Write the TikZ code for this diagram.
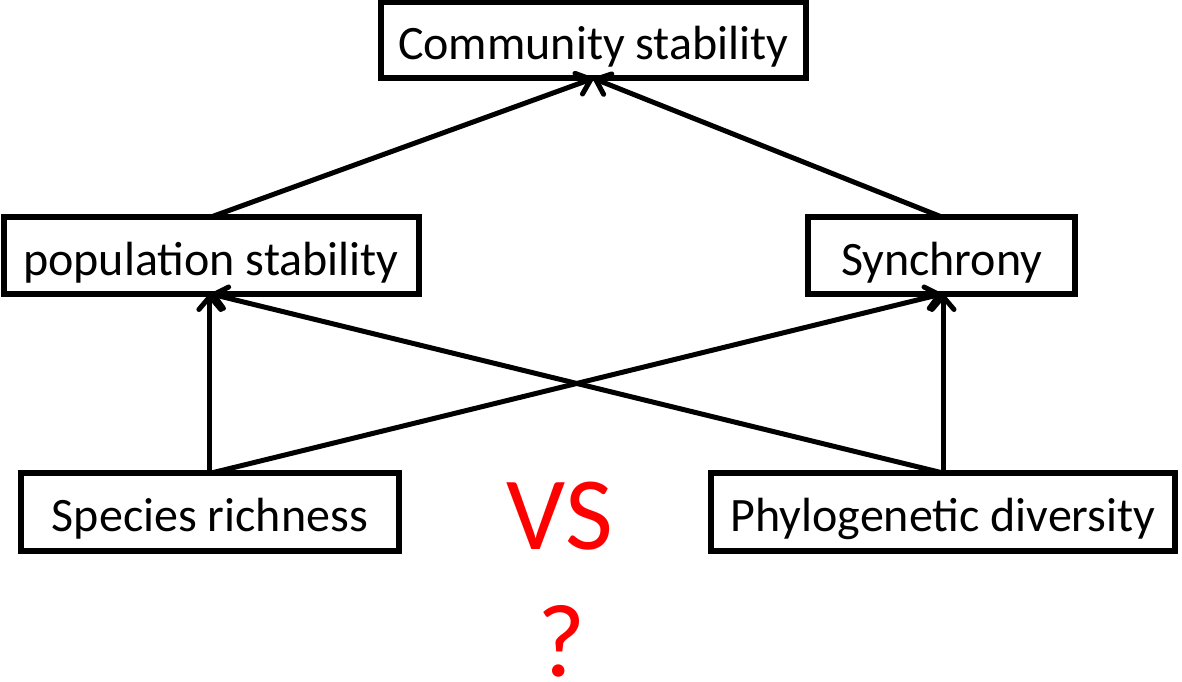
\documentclass[tikz,border=0pt]{standalone}
\usepackage{fontspec}
\setmainfont{Carlito}
\usetikzlibrary{arrows.meta}
\begin{document}
\begin{tikzpicture}[x=1pt,y=-1pt,
  box/.style={draw=black, line width=6pt, fill=white, inner sep=0pt, outer sep=0pt,
    text height=39pt, text depth=0pt, font=\fontsize{48}{56}\selectfont},
  link/.style={line width=5pt, line cap=round,
    -{Straight Barb[length=13pt,width=22pt,round]}},
  redlabel/.style={text=red, inner sep=0pt, font=\fontsize{104}{110}\selectfont}]
  \useasboundingbox (0,0) rectangle (1182,681);
  % boxes
  \node[box, minimum width=425pt, minimum height=76pt] (comm) at (593.3,40.4) {Community stability};
  \node[box, minimum width=415pt, minimum height=77pt] (pop) at (211,255.5) {population stability};
  \node[box, minimum width=266.5pt, minimum height=77pt] (sync) at (941.7,255.5) {Synchrony};
  \node[box, minimum width=378.3pt, minimum height=77.7pt] (spec) at (209.9,512.2) {Species richness};
  \node[box, minimum width=464pt, minimum height=78pt] (phyl) at (943,512) {Phylogenetic diversity};
  % red labels
  \node[redlabel] (vs) at (560,516) {VS};
  \node[redlabel, text depth=0pt, anchor=base] (qm) at (562,676) {?};
  % arrows
  \draw[link] (pop.north) -- (comm.south);
  \draw[link] (sync.north) -- (comm.south);
  \draw[link] (spec.north) -- (spec.north |- pop.south);
  \draw[link] (spec.north) -- (sync.south);
  \draw[link] (phyl.north) -- (pop.south);
  \draw[link] (phyl.north) -- (phyl.north |- sync.south);
\end{tikzpicture}
\end{document}
